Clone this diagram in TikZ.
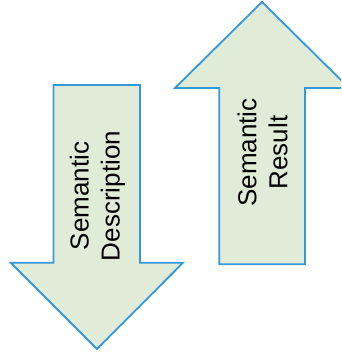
\documentclass[tikz,border=0pt]{standalone}
\usepackage{fontspec}
\setmainfont{Liberation Sans}
\definecolor{arrowfill}{RGB}{224,235,216}
\definecolor{arrowline}{RGB}{52,152,219}
\begin{document}
\begin{tikzpicture}[x=1pt,y=1pt,
  blockarrow/.style={fill=arrowfill,draw=arrowline,line width=1.8pt,line join=miter},
  arrowlabel/.style={rotate=90,align=center,font=\fontsize{26}{31}\selectfont,inner sep=0pt}]
\useasboundingbox (0,0) rectangle (341,353);
\clip (0,0) rectangle (341,353);
% left down arrow
\draw[blockarrow] (53.5,268) -- (140,268) -- (140,90.3) -- (183,90.3) -- (97,4) -- (10.7,90.3) -- (53.5,90.3) -- cycle;
% right up arrow
\draw[blockarrow] (219.3,88.7) -- (305,88.7) -- (305,265) -- (349,265) -- (262,351) -- (175,265) -- (219.3,265) -- cycle;
\node[arrowlabel] (desc) at (97.5,157) {Semantic\\Description};
\node[arrowlabel] (res) at (262.5,200.5) {Semantic\\Result};
\end{tikzpicture}
\end{document}
